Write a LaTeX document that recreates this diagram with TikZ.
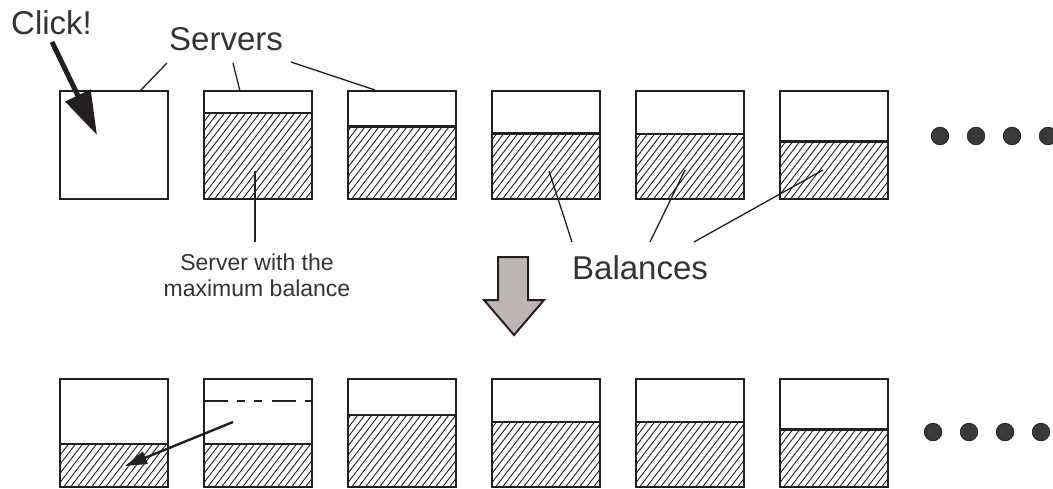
\documentclass[tikz,border=0pt]{standalone}
\usepackage{fontspec}
\setmainfont{Liberation Sans}
\usetikzlibrary{arrows.meta}

\definecolor{ink}{HTML}{231F20}
\definecolor{txt}{HTML}{333333}
\definecolor{arrowgray}{HTML}{BEB6B4}
\definecolor{dotgray}{HTML}{3A3A3C}

\tikzset{
  server/.style={draw=ink, line width=2.4pt, minimum width=108pt, minimum height=108pt,
                 inner sep=0pt, outer sep=0pt},
  level/.style={draw=ink, line width=2.4pt},
  hatchline/.style={draw=ink, line width=0.9pt},
  leader/.style={draw=ink, line width=1.3pt},
  biglabel/.style={font=\fontsize{33}{36}\selectfont, text=txt, inner sep=0pt},
  smalllabel/.style={font=\fontsize{23}{26}\selectfont, text=txt, inner sep=0pt, align=center},
  ellipsisdot/.style={circle, fill=dotgray, draw=ink, line width=0.8pt,
                      minimum size=17.5pt, inner sep=0pt},
  transfer/.style={draw=ink, line width=2.4pt, -{Triangle[length=22pt,width=13pt]}},
}

% server box: name, centre x, centre y, top of the hatched balance
\newcommand\balancebox[4]{%
  \begin{scope}
    \clip ({#2-54},#4) rectangle ({#2+54},{#3+54});
    \foreach \k in {0,...,34}
      \draw[hatchline] ({#2-150+\k*7},{#3+56}) -- ++(120,-156);
  \end{scope}
  \draw[level] ({#2-54},#4) -- ({#2+54},#4);
  \node[server] (#1) at (#2,#3) {};
}

\begin{document}
\begin{tikzpicture}[x=1pt, y=-1pt]
  \useasboundingbox (0,0) rectangle (1053,488);
  \clip (0,0) rectangle (1053,488);

  % ---- before the click ----
  \node[server] (t1) at (114,145) {};
  \balancebox{t2}{258}{145}{113}
  \balancebox{t3}{402}{145}{126.5}
  \balancebox{t4}{546}{145}{133.5}
  \balancebox{t5}{690}{145}{134}
  \balancebox{t6}{834}{145}{141.5}

  \node[ellipsisdot] (td1) at (940,136) {};
  \node[ellipsisdot] (td2) at (976,136) {};
  \node[ellipsisdot] (td3) at (1012,136) {};
  \node[ellipsisdot] (td4) at (1048,136) {};

  % ---- after the click ----
  \balancebox{b1}{114}{433}{444}
  \balancebox{b2}{258}{433}{444}
  \balancebox{b3}{402}{433}{415}
  \balancebox{b4}{546}{433}{421.7}
  \balancebox{b5}{690}{433}{421.7}
  \balancebox{b6}{834}{433}{429.3}
  \draw[ink, line width=2.4pt, dash pattern=on 24pt off 9pt on 8pt off 9pt on 8pt off 10pt]
    (b2.west |- 0,401) -- (b2.east |- 0,401);

  \node[ellipsisdot] (bd1) at (933,432) {};
  \node[ellipsisdot] (bd2) at (969,432) {};
  \node[ellipsisdot] (bd3) at (1005,432) {};
  \node[ellipsisdot] (bd4) at (1041,432) {};

  % ---- labels ----
  \node[biglabel, anchor=base west] (click) at (11,34) {Click!};
  \node[biglabel, anchor=base west] (servers) at (169,50) {Servers};
  \node[biglabel, anchor=base west] (balances) at (572,279) {Balances};
  \node[smalllabel, anchor=north] (maxbal) at (257,254) {Server with the\\maximum balance};

  % leader lines
  \coordinate (sv1) at (167,63);  \coordinate (sv1e) at (140,91);
  \coordinate (sv2) at (233,63);  \coordinate (sv2e) at (240,91);
  \coordinate (sv3) at (291,62);  \coordinate (sv3e) at (375,90);
  \draw[leader] (sv1) -- (sv1e);
  \draw[leader] (sv2) -- (sv2e);
  \draw[leader] (sv3) -- (sv3e);

  \coordinate (mx) at (255,242);  \coordinate (mxe) at (255,171);
  \draw[leader] (mx) -- (mxe);

  \coordinate (bl1) at (572,242); \coordinate (bl1e) at (549,171);
  \coordinate (bl2) at (650,242); \coordinate (bl2e) at (685,170);
  \coordinate (bl3) at (694,242); \coordinate (bl3e) at (823,170);
  \draw[leader] (bl1) -- (bl1e);
  \draw[leader] (bl2) -- (bl2e);
  \draw[leader] (bl3) -- (bl3e);

  % click arrow
  \coordinate (clickfrom) at (52,42);
  \coordinate (clickto) at (97,135);
  \draw[ink, line width=5pt, -{Triangle[length=44pt,width=27pt]}] (clickfrom) -- (clickto);

  % step arrow between the two rows
  \draw[ink, line width=2pt, fill=arrowgray, line join=miter]
    (498,257) -- (528,257) -- (528,300) -- (544,300) -- (514,335) -- (484,300) -- (498,300) -- cycle;

  % balance moved from the emptied server
  \coordinate (movefrom) at (233,422);
  \coordinate (moveto) at (125,466);
  \draw[transfer] (movefrom) -- (moveto);
\end{tikzpicture}
\end{document}
